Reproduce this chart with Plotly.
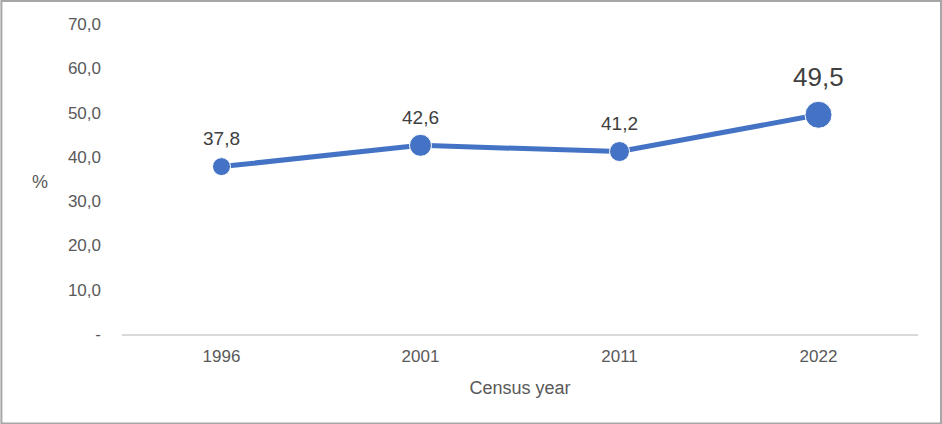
import plotly.graph_objects as go

years = ["1996", "2001", "2011", "2022"]
share = [37.8, 42.6, 41.2, 49.5]
labels = ["37,8", "42,6", "41,2", "49,5"]
y_ticks = [0, 10, 20, 30, 40, 50, 60, 70]
y_tick_labels = ["-", "10,0", "20,0", "30,0", "40,0", "50,0", "60,0", "70,0"]

blue = "#4472C4"
grey = "#595959"
font = "Liberation Sans, Arial, sans-serif"

fig = go.Figure()
fig.add_trace(go.Scatter(
    x=years, y=share,
    mode="lines+markers",
    line=dict(color=blue, width=5),
    marker=dict(color=blue, size=[18, 22, 20, 27], opacity=1),
    hoverinfo="skip",
))

# point labels, the last one larger
label_size = [19, 19, 19, 26]
label_shift = [28, 28, 28, 38]
for i, (y, t, s, d) in enumerate(zip(share, labels, label_size, label_shift)):
    fig.add_annotation(x=i, y=y, text=t, showarrow=False, yshift=d,
                       font=dict(size=s, color="#404040", family=font))

fig.add_annotation(xref="paper", yref="paper", x=-0.103, y=0.49, text="%",
                   xanchor="center", showarrow=False,
                   font=dict(size=18, color=grey, family=font))

fig.update_xaxes(
    type="category", range=[-0.5, 3.5],
    showline=True, linecolor="#D9D9D9", linewidth=1.5,
    showgrid=False, ticks="", zeroline=False,
    ticklabelstandoff=6,
    tickfont=dict(size=17, color=grey, family=font),
    title=dict(text="Census year", standoff=16,
               font=dict(size=18, color=grey, family=font)),
)
fig.update_yaxes(
    range=[0, 70], tickvals=y_ticks, ticktext=y_tick_labels,
    showline=False, showgrid=False, zeroline=False, ticks="",
    ticklabelstandoff=20,
    tickfont=dict(size=17, color=grey, family=font),
)

fig.update_layout(
    width=942, height=424,
    margin=dict(l=122, r=24, t=24, b=90),
    paper_bgcolor="white", plot_bgcolor="white",
    showlegend=False,
    shapes=[dict(type="rect", xref="paper", yref="paper",
                 x0=-0.1515, x1=1.0289, y0=-0.2887, y1=1.0742,
                 line=dict(color="#A6A6A6", width=2))],
)

fig.write_html("out.html", config={"displayModeBar": False},
               post_script="document.body.style.margin='0';")
